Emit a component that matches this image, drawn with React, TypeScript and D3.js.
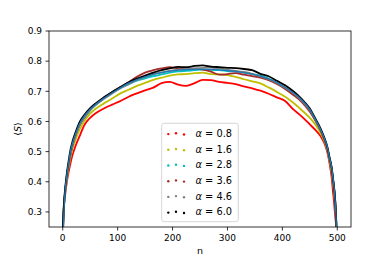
import React from "react";
import * as d3 from "d3";

const nGrid = [0,1,2,4,6,8,10,14,18,24,30,40,50,60,75,90,105,120,135,150,165,180,195,210,225,240,255,270,285,300,315,330,345,360,375,390,405,420,435,450,460,470,476,482,486,490,492,494,496,498,499,500];

const theory = [0.10,0.22,0.29,0.36,0.40,0.43,0.455,0.50,0.53,0.562,0.59,0.62,0.641,0.657,0.677,0.695,0.712,0.727,0.739,0.748,0.756,0.762,0.767,0.770,0.772,0.773,0.773,0.773,0.771,0.769,0.766,0.762,0.757,0.750,0.741,0.729,0.713,0.695,0.672,0.640,0.607,0.572,0.546,0.515,0.478,0.445,0.415,0.385,0.34,0.27,0.21,0.10];

const a08 = [0.20,0.27,0.31,0.35,0.38,0.405,0.425,0.46,0.49,0.522,0.548,0.59,0.612,0.627,0.643,0.656,0.668,0.682,0.693,0.703,0.712,0.727,0.731,0.722,0.718,0.727,0.738,0.737,0.731,0.728,0.724,0.716,0.710,0.702,0.692,0.680,0.668,0.640,0.617,0.590,0.572,0.550,0.530,0.497,0.46,0.41,0.37,0.335,0.29,0.25,0.21,0.10];

const a16 = [0.22,0.28,0.32,0.36,0.39,0.415,0.44,0.48,0.51,0.542,0.57,0.603,0.626,0.642,0.66,0.676,0.693,0.705,0.718,0.728,0.738,0.745,0.752,0.756,0.757,0.760,0.762,0.757,0.756,0.754,0.748,0.740,0.733,0.726,0.713,0.698,0.682,0.662,0.638,0.612,0.59,0.56,0.537,0.505,0.47,0.43,0.40,0.37,0.33,0.27,0.22,0.10];

const a28 = [0.21,0.27,0.31,0.36,0.395,0.425,0.45,0.49,0.522,0.557,0.585,0.613,0.637,0.654,0.676,0.694,0.71,0.723,0.735,0.743,0.750,0.756,0.762,0.766,0.768,0.770,0.772,0.771,0.770,0.767,0.765,0.762,0.757,0.752,0.742,0.728,0.712,0.692,0.668,0.636,0.605,0.57,0.543,0.51,0.475,0.44,0.41,0.38,0.34,0.27,0.21,0.10];

const a36 = [0.21,0.27,0.31,0.36,0.395,0.425,0.45,0.49,0.522,0.557,0.585,0.615,0.639,0.657,0.678,0.697,0.714,0.73,0.748,0.762,0.770,0.776,0.780,0.776,0.774,0.775,0.772,0.765,0.755,0.757,0.760,0.755,0.750,0.745,0.737,0.724,0.708,0.688,0.665,0.632,0.603,0.568,0.542,0.51,0.475,0.44,0.41,0.38,0.34,0.27,0.21,0.10];

const a46 = [0.22,0.27,0.31,0.36,0.395,0.425,0.45,0.49,0.522,0.557,0.585,0.615,0.638,0.655,0.675,0.693,0.71,0.724,0.737,0.748,0.757,0.763,0.768,0.772,0.774,0.776,0.778,0.779,0.776,0.771,0.768,0.764,0.758,0.750,0.740,0.728,0.712,0.694,0.67,0.638,0.607,0.572,0.546,0.513,0.478,0.443,0.413,0.383,0.34,0.27,0.21,0.10];

const a60 = [0.22,0.28,0.32,0.37,0.405,0.435,0.46,0.505,0.535,0.567,0.595,0.623,0.644,0.66,0.68,0.698,0.714,0.73,0.742,0.752,0.762,0.77,0.776,0.781,0.780,0.784,0.786,0.782,0.78,0.778,0.777,0.774,0.77,0.758,0.75,0.735,0.72,0.70,0.675,0.643,0.61,0.575,0.548,0.515,0.48,0.445,0.415,0.385,0.345,0.275,0.215,0.10];

const seriesLabels = ["0.8", "1.6", "2.8", "3.6", "4.6", "6.0"];
const seriesValues = [a08, a16, a28, a36, a46, a60];
const seriesColors = ["#ff0000", "#bfbf00", "#00bfbf", "#a52a2a", "#808080", "#000000"];

const xTicks = [0, 100, 200, 300, 400, 500];
const yTicks = [0.3, 0.4, 0.5, 0.6, 0.7, 0.8, 0.9];

const W = 390, H = 260;
const L = 49, R = 351, T = 31, B = 227;
const FONT = "DejaVu Sans, sans-serif";

export default function App() {
  const x = d3.scaleLinear().domain([-25, 525]).range([L, R]);
  const y = d3.scaleLinear().domain([0.25, 0.9]).range([B, T]);
  const line = (vals: number[]) =>
    d3.line<number>().x((_, i) => x(nGrid[i])).y((v) => y(v)).curve(d3.curveMonotoneX)(vals) || "";

  const rowY = (i: number) => 133.3 + i * 15.7;

  return (
    <div style={{ position: "absolute", left: 0, top: 0 }}>
      <svg width={W} height={H} style={{ display: "block", fontFamily: FONT }}>
        <rect width={W} height={H} fill="#fff" />
        <defs>
          <clipPath id="plot">
            <rect x={L} y={T} width={R - L} height={B - T} />
          </clipPath>
        </defs>
        <g clipPath="url(#plot)">
          {seriesValues.map((vals, k) => (
            <path key={k} d={line(vals)} fill="none" stroke={seriesColors[k]}
              strokeWidth={1.8} strokeLinejoin="round" />
          ))}
          <path d={line(theory)} fill="none" stroke="#1f77b4" strokeWidth={1.3} />
        </g>
        <rect x={L} y={T} width={R - L} height={B - T} fill="none" stroke="#000" strokeWidth={0.8} />
        {xTicks.map((t) => (
          <g key={t}>
            <line x1={x(t)} x2={x(t)} y1={B} y2={B + 3.5} stroke="#000" strokeWidth={0.8} />
            <text x={x(t)} y={241} fontSize={9} textAnchor="middle" fill="#000">{t}</text>
          </g>
        ))}
        {yTicks.map((t) => (
          <g key={t}>
            <line x1={L - 3.5} x2={L} y1={y(t)} y2={y(t)} stroke="#000" strokeWidth={0.8} />
            <text x={42} y={y(t) + 3.3} fontSize={9} textAnchor="end" fill="#000">{t.toFixed(1)}</text>
          </g>
        ))}
        <text x={200} y={254} fontSize={9.5} textAnchor="middle" fill="#000">n</text>
        <text transform={`translate(21,${(T + B) / 2}) rotate(-90)`} fontSize={9.5} textAnchor="middle" fill="#000">
          ⟨<tspan fontStyle="italic">S</tspan>⟩
        </text>
        <rect x={161.7} y={123.3} width={76.6} height={98.4} rx={2.5} fill="#fff" fillOpacity={0.8} stroke="#cccccc" strokeWidth={0.8} />
        {seriesLabels.map((lab, i) => (
          <g key={lab}>
            {[168.3, 176, 184].map((cx, j) => (
              <circle key={j} cx={cx} cy={rowY(i) + [0.8, 0, 1.2][j]} r={1.2} fill={seriesColors[i]} />
            ))}
            <text x={195.5} y={rowY(i) + 3.5} fontSize={9.8} fill="#000">
              <tspan fontStyle="italic">α</tspan> = {lab}
            </text>
          </g>
        ))}
      </svg>
    </div>
  );
}
